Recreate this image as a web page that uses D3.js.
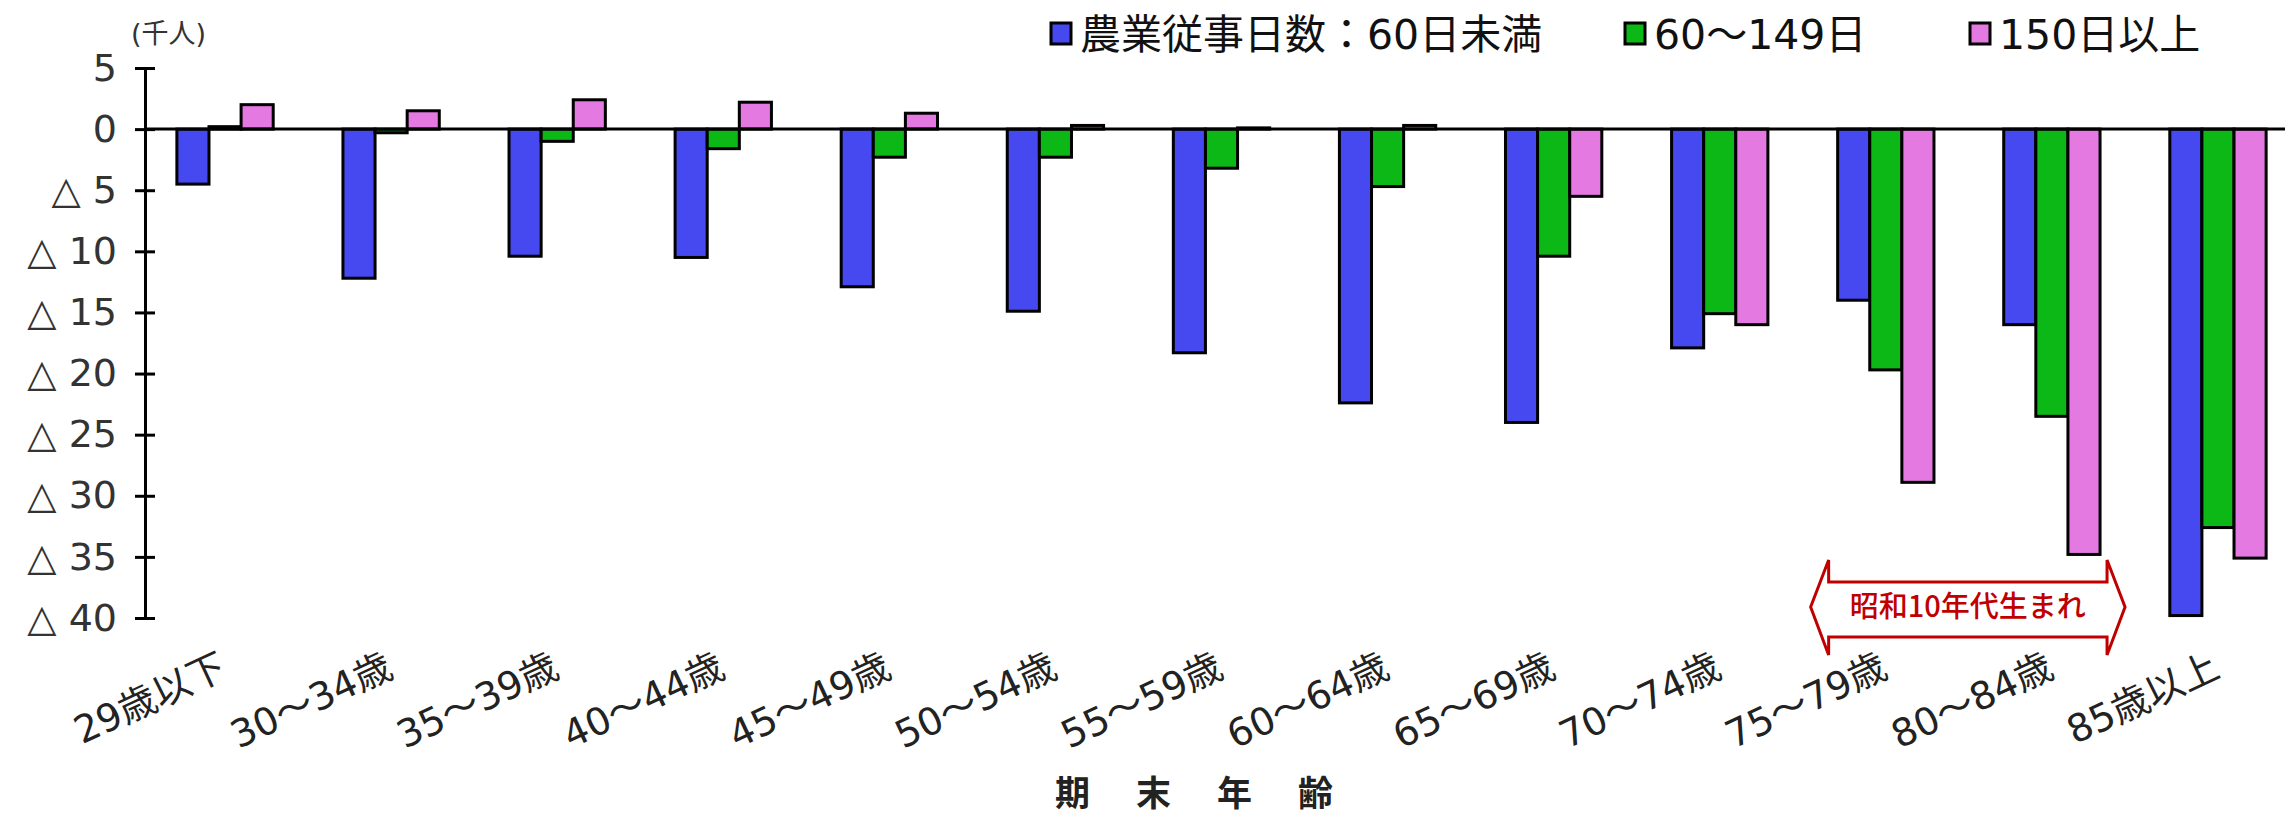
<!DOCTYPE html>
<html>
<head>
<meta charset="utf-8">
<script src="https://cdn.jsdelivr.net/npm/d3@7"></script>
<style>
  body { margin: 0; background: #fff; }
  svg { display: block; }
  text { font-family: "DejaVu Sans", "Noto Sans CJK JP", sans-serif; }
</style>
</head>
<body>
<script>
// age groups at end of period
var categories = ["29歳以下", "30～34歳", "35～39歳", "40～44歳", "45～49歳", "50～54歳",
    "55～59歳", "60～64歳", "65～69歳", "70～74歳", "75～79歳", "80～84歳", "85歳以上"];

var seriesNames = ["農業従事日数：60日未満", "60～149日", "150日以上"];

// change in thousand persons
var under60  = [-4.5, -12.2, -10.4, -10.5, -12.9, -14.9, -18.3, -22.4, -24.0, -17.9, -14.0, -16.0, -39.8];
var days60   = [0.2, -0.3, -1.0, -1.6, -2.3, -2.3, -3.2, -4.7, -10.4, -15.1, -19.7, -23.5, -32.6];
var over150  = [2.0, 1.5, 2.4, 2.2, 1.3, 0.3, 0.1, 0.3, -5.5, -16.0, -28.9, -34.8, -35.1];

var yTicks = [5, 0, -5, -10, -15, -20, -25, -30, -35, -40];

var colours = ["#4549ef", "#0cb815", "#e479e1"];

var W = 2285, H = 819;
var svg = d3.select("body").append("svg").attr("width", W).attr("height", H);

var x = d3.scaleBand().domain(categories).range([142, 2301]).paddingInner(0.42).paddingOuter(0.21);
var x1 = d3.scaleBand().domain(d3.range(3)).range([0, x.bandwidth()]);
var y = d3.scaleLinear().domain([5, -40]).range([68, 618]);

var series = [under60, days60, over150];

// Bars
var groups = svg.append("g").selectAll("g")
    .data(categories)
    .join("g")
    .attr("transform", function (d) { return "translate(" + x(d) + ",0)"; });

groups.selectAll("rect")
    .data(function (d, i) { return series.map(function (s, k) { return { k: k, v: s[i] }; }); })
    .join("rect")
    .attr("x", function (d) { return x1(d.k); })
    .attr("width", x1.bandwidth())
    .attr("y", function (d) { return y(Math.max(0, d.v)); })
    .attr("height", function (d) { return Math.abs(y(d.v) - y(0)); })
    .attr("fill", function (d) { return colours[d.k]; })
    .attr("stroke", "#000")
    .attr("stroke-width", 3);

// Zero line
svg.append("line")
    .attr("x1", 145).attr("x2", W)
    .attr("y1", y(0)).attr("y2", y(0))
    .attr("stroke", "#000").attr("stroke-width", 3);

// Y axis
var yAxis = d3.axisLeft(y)
    .tickValues(yTicks)
    .tickFormat(function (d) { return d < 0 ? "\u25B3 " + (-d) : d; })
    .tickSizeInner(10).tickSizeOuter(0).tickPadding(18);

var ya = svg.append("g").attr("transform", "translate(145,0)").call(yAxis);
ya.select(".domain").attr("stroke", "#000").attr("stroke-width", 3);
ya.selectAll(".tick line").attr("x1", 10).attr("stroke", "#000").attr("stroke-width", 3);
ya.selectAll(".tick text")
    .attr("font-size", 38)
    .attr("fill", "#333")
    .style("font-family", "'DejaVu Sans', sans-serif");

// unit label
svg.append("text").attr("x", 131).attr("y", 43)
    .attr("font-size", 27).attr("fill", "#333").text("(千人)");

// X labels
svg.append("g").selectAll("text")
    .data(categories)
    .join("text")
    .attr("transform", function (d) {
        return "translate(" + (x(d) + x.bandwidth() / 2 + 4) + ",676) rotate(-25)";
    })
    .attr("text-anchor", "end")
    .attr("font-size", 38)
    .attr("fill", "#222")
    .text(function (d) { return d; });

// Axis title
var title = ["期", "末", "年", "齢"];
svg.append("g").selectAll("text")
    .data(title)
    .join("text")
    .attr("x", function (d, i) { return 1194 + (i - 1.5) * 81; })
    .attr("y", 806)
    .attr("text-anchor", "middle")
    .attr("font-size", 35)
    .attr("font-weight", "bold")
    .attr("fill", "#222")
    .style("font-family", "'Noto Sans CJK JP', sans-serif")
    .text(function (d) { return d; });

// Legend
var legendX = [1051, 1625, 1970];
var lg = svg.append("g").selectAll("g")
    .data(seriesNames)
    .join("g")
    .attr("transform", function (d, i) { return "translate(" + legendX[i] + ",0)"; });
lg.append("rect")
    .attr("x", 0).attr("y", 23).attr("width", 20).attr("height", 21)
    .attr("fill", function (d, i) { return colours[i]; })
    .attr("stroke", "#000").attr("stroke-width", 3);
lg.append("text")
    .attr("x", 29).attr("y", 49)
    .attr("font-size", 41)
    .attr("fill", "#111")
    .text(function (d) { return d; });

// Annotation: born in Showa 10s
var xl = x("75～79歳") - 9;
var xr = x("80～84歳") + x.bandwidth() + 7;
var yTop = 560, yUp = 582, yMid = 607, yLow = 637, yBot = 655, tip = 18;
var pts = [[xl, yUp], [xr, yUp], [xr, yTop], [xr + tip, yMid], [xr, yBot], [xr, yLow],
    [xl, yLow], [xl, yBot], [xl - tip, yMid], [xl, yTop]];
svg.append("path")
    .attr("d", d3.line()(pts) + "Z")
    .attr("fill", "#fff")
    .attr("stroke", "#c00000")
    .attr("stroke-width", 3)
    .attr("stroke-linejoin", "miter");
svg.append("text")
    .attr("x", (xl + xr) / 2).attr("y", yMid)
    .attr("dy", "0.36em")
    .attr("text-anchor", "middle")
    .attr("font-size", 29)
    .attr("font-weight", 500)
    .attr("fill", "#c00000")
    .style("font-family", "'Noto Sans CJK JP', sans-serif")
    .text("昭和10年代生まれ");
</script>
</body>
</html>
